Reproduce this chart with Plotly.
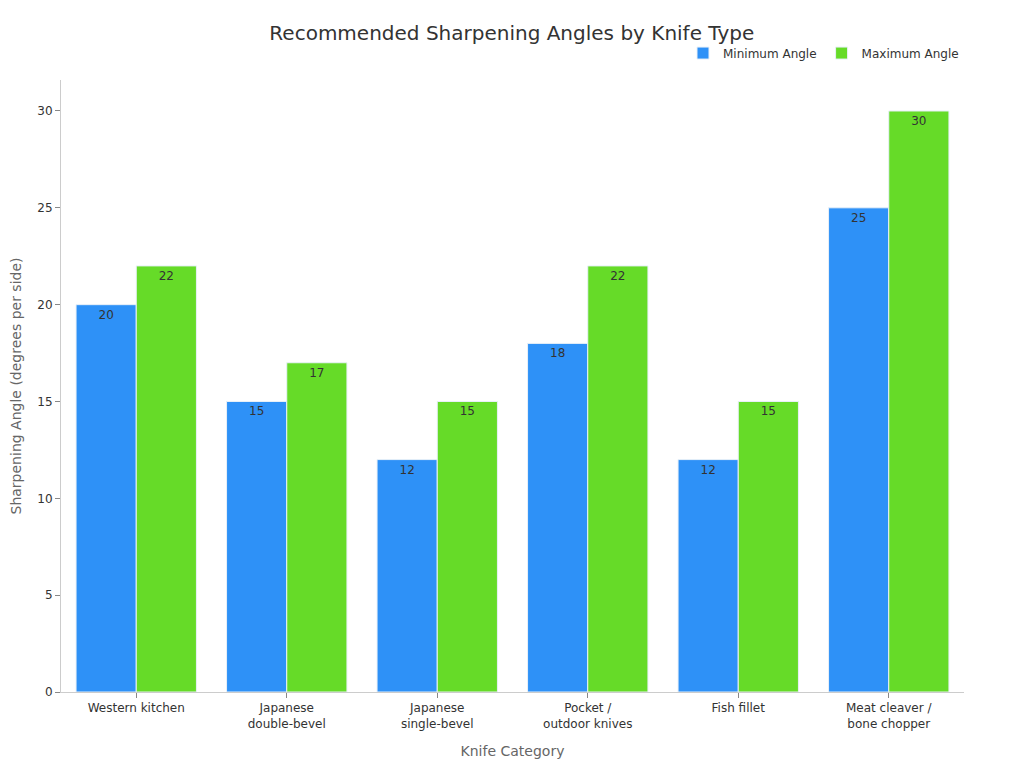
import plotly.graph_objects as go

categories = ["Western kitchen", "Japanese<br>double-bevel", "Japanese<br>single-bevel",
              "Pocket /<br>outdoor knives", "Fish fillet", "Meat cleaver /<br>bone chopper"]
min_angle = [20, 15, 12, 18, 12, 25]
max_angle = [22, 17, 15, 22, 15, 30]

font_family = "DejaVu Sans, Verdana, sans-serif"

fig = go.Figure()
fig.add_trace(go.Bar(
    name="Minimum Angle", x=categories, y=min_angle,
    marker=dict(color="#2E91F7", line=dict(color="#E8F0F8", width=1)),
    text=min_angle, textposition="inside", insidetextanchor="end",
    textfont=dict(color="#333333", size=12),
))
fig.add_trace(go.Bar(
    name="Maximum Angle", x=categories, y=max_angle,
    marker=dict(color="#66DB28", line=dict(color="#E8F0F8", width=1)),
    text=max_angle, textposition="inside", insidetextanchor="end",
    textfont=dict(color="#333333", size=12),
))

fig.update_layout(
    width=1024, height=768,
    template="plotly_white",
    font=dict(family=font_family, color="#333333", size=12),
    title=dict(text="Recommended Sharpening Angles by Knife Type", x=0.492, xanchor="center",
               y=0.967, yanchor="middle", font=dict(size=20, color="#333333")),
    barmode="group", bargap=0.2, bargroupgap=0,
    margin=dict(l=53, r=68, t=72, b=84),
    plot_bgcolor="white", paper_bgcolor="white",
    legend=dict(orientation="h", x=1, xanchor="right", y=1.044, yanchor="middle",
                font=dict(size=12)),
    uniformtext=dict(minsize=12, mode="show"),
)
fig.update_xaxes(
    title=dict(text="Knife Category", font=dict(size=14, color="#666666"), standoff=16),
    showline=True, linecolor="#CCCCCC", ticks="outside", tickcolor="#888888", ticklen=5,
    showgrid=False, tickfont=dict(size=12), automargin=False,
)
fig.update_yaxes(
    title=dict(text="Sharpening Angle (degrees per side)", font=dict(size=14, color="#666666"),
               standoff=14),
    range=[0, 31.6], dtick=5, showline=True, linecolor="#CCCCCC", ticks="outside",
    tickcolor="#888888", ticklen=5, showgrid=False, zeroline=False, tickfont=dict(size=12),
    automargin=False,
)

fig.write_html("out.html")
